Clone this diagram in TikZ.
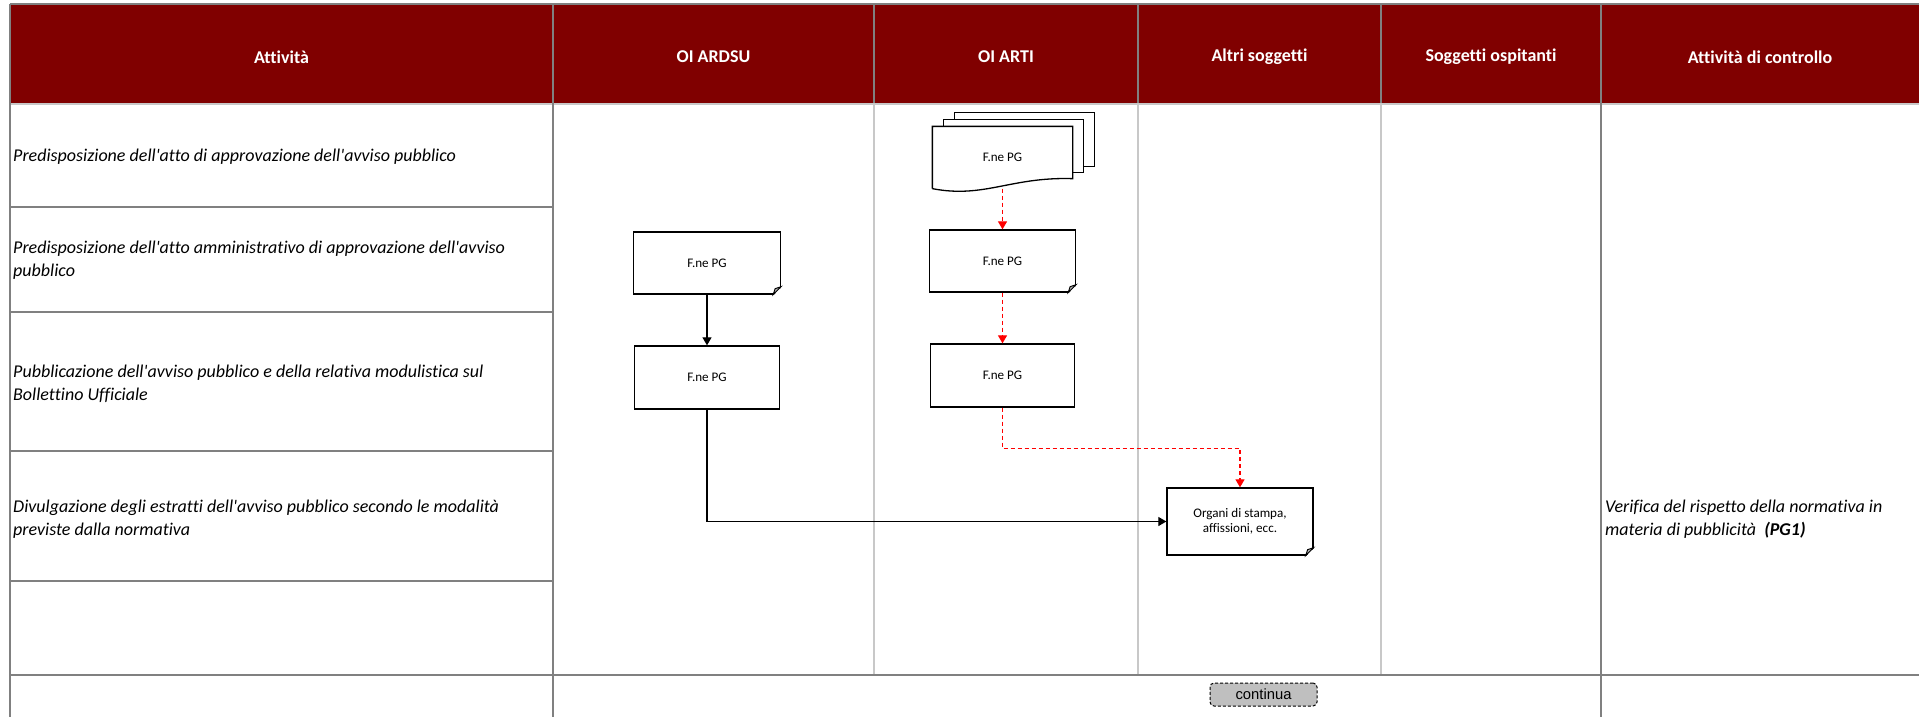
\documentclass[tikz,border=0pt]{standalone}
\usepackage{fontspec}
\setmainfont{Carlito}[Ligatures={NoCommon,TeXOff}]
\newfontfamily\arialfont{Liberation Sans}
\usepackage{xcolor}
\usepackage{tikz}
\usetikzlibrary{arrows.meta, calc, backgrounds}

\definecolor{headred}{RGB}{128,0,0}
\definecolor{gridgray}{RGB}{128,128,128}
\definecolor{lanegray}{RGB}{200,200,200}
\definecolor{dashred}{RGB}{255,0,0}

\newcommand{\dogear}[1]{%
  \fill[white] ($(#1.south east)+(1,1)$) -- ($(#1.south east)+(1,-8)$) -- ($(#1.south east)+(-8,1)$) -- cycle;
  \filldraw[fill=gray!60, line width=0.9pt] ($(#1.south east)+(0,-8)$) -- ($(#1.south east)+(-8,0)$) -- ($(#1.south east)+(-6,-6)$) -- cycle;
}

\begin{document}
\begin{tikzpicture}[x=1pt, y=-1pt, >={Triangle[length=8pt,width=9pt]},
  grid/.style={gridgray, line width=2.5pt},
  lane/.style={lanegray, line width=1.5pt},
  head/.style={text=white, font=\bfseries\fontsize{18}{21}\selectfont},
  act/.style={anchor=west, align=left, inner sep=1pt, font=\itshape\fontsize{18}{22.5}\selectfont},
  doc/.style={draw, line width=1.3pt, fill=white, inner sep=0pt, align=center, font=\fontsize{13.1}{15.5}\selectfont},
  docline/.style={draw, line width=1.3pt, fill=white},
  contbox/.style={draw, dash pattern=on 3pt off 2pt, line width=1pt, fill=gray!50, rounded corners=4pt, inner sep=0pt, font=\arialfont\fontsize{14.8}{17}\selectfont},
  flow/.style={->, line width=1.2pt},
  redflow/.style={->, dashred, line width=1.2pt, dash pattern=on 4pt off 3pt}]
  \useasboundingbox (0,0) rectangle (1919,717);

  \fill[headred] (10,4) rectangle (1919,104);
  \foreach \x in {874,1138,1381} \draw[lane] (\x,104) -- (\x,675);
  \foreach \x in {874,1138,1381} \draw[grid] (\x,4) -- (\x,104);
  \foreach \y in {207,312,451,581} \draw[grid] (10,\y) -- (553,\y);
  \draw[lane, line width=2.5pt] (10,104) -- (1919,104);
  \foreach \y in {4,675} \draw[grid] (10,\y) -- (1919,\y);
  \foreach \x in {10,553,1601} \draw[grid] (\x,4) -- (\x,717);

  \node[head] (hAtt) at (281.5,57) {Attività};
  \node[head] (hArdsu) at (713.5,57) {OI ARDSU};
  \node[head] (hArti) at (1006,57) {OI ARTI};
  \node[head] (hAltri) at (1259.5,57) {Altri soggetti};
  \node[head] (hOsp) at (1491,57) {Soggetti ospitanti};
  \node[head] (hCtl) at (1760,57) {Attività di controllo};

  \node[act] (r1) at (12,157) {Predisposizione dell'atto di approvazione dell'avviso pubblico};
  \node[act] (r2) at (12,260) {Predisposizione dell'atto amministrativo di approvazione dell'avviso\\pubblico};
  \node[act] (r3) at (12,384) {Pubblicazione dell'avviso pubblico e della relativa modulistica sul\\Bollettino Ufficiale};
  \node[act] (r4) at (12,519) {Divulgazione degli estratti dell'avviso pubblico secondo le modalità\\previste dalla normativa};
  \node[act] (ctl) at (1604,519) {Verifica del rispetto della normativa in\\materia di pubblicità \ \textbf{(PG1)}};

  \node[doc, minimum width=147pt, minimum height=62pt] (ardsuA) at (707,263) {F.ne PG};
  \node[doc, minimum width=145pt, minimum height=63pt] (ardsuB) at (707,377.5) {F.ne PG};
  \node[doc, draw=none, fill=none, minimum width=139pt, minimum height=61pt] (artiA) at (1002.5,157.5) {F.ne PG};
  \node[doc, minimum width=146pt, minimum height=62pt] (artiB) at (1002.5,261) {F.ne PG};
  \node[doc, minimum width=144pt, minimum height=63pt] (artiC) at (1002.5,375.5) {F.ne PG};
  \node[doc, minimum width=146pt, minimum height=67pt] (organi) at (1240,521.5) {Organi di stampa,\\affissioni, ecc.};
  \node[contbox, minimum width=107pt, minimum height=23pt] (cont) at (1263.5,694.5) {continua};

  \begin{scope}[on background layer]
    \draw[docline] ($(artiA.north west)+(22,-14)$) rectangle ($(artiA.south east)+(22,-22)$);
    \draw[docline] ($(artiA.north west)+(11,-7)$) rectangle ($(artiA.south east)+(11,-16)$);
    \draw[docline] (artiA.south west) -- (artiA.north west) -- (artiA.north east) -- ($(artiA.south east)+(0,-10)$) .. controls +(-62,-2) and +(52,10) .. (artiA.south west);
  \end{scope}
  \dogear{ardsuA}
  \dogear{artiB}
  \dogear{organi}

  \draw[flow] (ardsuA) -- (ardsuB);
  \draw[flow] (ardsuB.south) |- (organi.west);
  \draw[redflow] (artiA.south) -- (artiB.north);
  \draw[redflow] (artiB) -- (artiC);
  \draw[redflow] (artiC.south) -- ++(0,41) -| (organi.north);
\end{tikzpicture}
\end{document}
